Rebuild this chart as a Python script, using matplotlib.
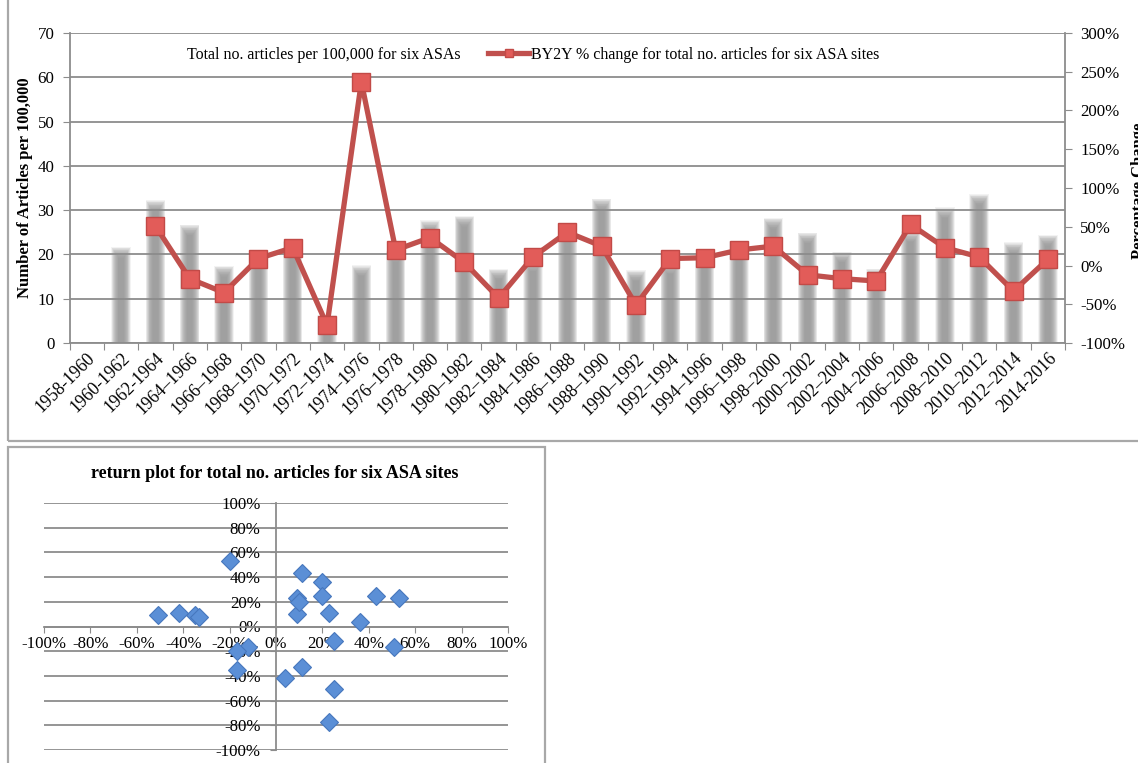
import numpy as np
import matplotlib
matplotlib.use("Agg")
import matplotlib.pyplot as plt
from matplotlib.lines import Line2D
from matplotlib.patches import Patch, Rectangle
from matplotlib.ticker import FuncFormatter

# ---- data -------------------------------------------------------------
periods = ["1958-1960", "1960-1962", "1962-1964", "1964–1966", "1966–1968",
           "1968–1970", "1970–1972", "1972–1974", "1974–1976", "1976–1978",
           "1978–1980", "1980–1982", "1982–1984", "1984–1986", "1986–1988",
           "1988–1990", "1990–1992", "1992–1994", "1994–1996", "1996–1998",
           "1998–2000", "2000–2002", "2002–2004", "2004–2006", "2006–2008",
           "2008–2010", "2010–2012", "2012–2014", "2014-2016"]

# total no. articles per 100,000 for six ASAs
articles = [np.nan, 20.5, 31.0, 25.5, 16.2, 17.8, 21.8, 5.0, 16.3, 19.5,
            26.5, 27.5, 15.5, 17.4, 24.9, 31.4, 15.2, 16.8, 18.6, 21.9,
            27.0, 23.7, 19.4, 15.6, 24.0, 29.4, 32.4, 21.5, 23.2]

# BY2Y % change for total no. articles
pct_change = [np.nan, np.nan, 51, -17, -35, 9, 23, -77, 237, 20,
              36, 4, -42, 11, 43, 25, -51, 9, 10, 20,
              25, -12, -17, -20, 53, 23, 11, -33, 8]

left_ticks = [0, 10, 20, 30, 40, 50, 60, 70]
right_ticks = [-100, -50, 0, 50, 100, 150, 200, 250, 300]
return_ticks = [-100, -80, -60, -40, -20, 0, 20, 40, 60, 80, 100]

# ---- style ------------------------------------------------------------
plt.rcParams["font.family"] = ["Liberation Serif", "DejaVu Serif"]
FS = 11.5        # legend text
TFS = 12.2       # tick labels
XFS = 12.7       # rotated period labels
LFS = 12         # axis labels
GRID = "#8c8c8c"
RED = "#c0504d"
RED_FACE = "#e25c59"
BLUE_FACE = "#5b8fd6"
BLUE_EDGE = "#4777bd"
W, H = 1138, 763

fig = plt.figure(figsize=(W / 100, H / 100), dpi=100)

# panel frames
fig.patches.append(Rectangle((8 / W, 1 - 441 / H), 1.2, 1.0,
                             transform=fig.transFigure, fill=False,
                             ec="#a8a8a8", lw=1.6))
fig.patches.append(Rectangle((8 / W, -0.2), (545 - 8) / W, 0.2 + (1 - 447 / H),
                             transform=fig.transFigure, fill=False,
                             ec="#a8a8a8", lw=1.6))

# ---- top chart --------------------------------------------------------
ax = fig.add_axes([69.6 / W, 1 - 343 / H, (1065 - 69.6) / W, (343 - 33) / H])
n = len(periods)
x = np.arange(n)
ax.set_xlim(-0.5, n - 0.5)
ax.set_ylim(0, 70)
ax.set_yticks(left_ticks)
ax.yaxis.grid(True, color=GRID, lw=1.3)
ax.set_axisbelow(False)

# soft-edged grey columns built from stacked translucent bars
vals = np.array(articles, dtype=float)
ok = ~np.isnan(vals)
layers = 16
total_alpha = 0.84
a = 1 - (1 - total_alpha) ** (1 / layers)
for k in range(layers):
    d = ((k + 0.5) / layers - 0.5) * 2
    ax.bar(x[ok], vals[ok] + d * 1.3, width=0.36 + d * 0.22,
           color="#929292", alpha=a, lw=0, zorder=1)

for s in ("top", "right"):
    ax.spines[s].set_visible(False)
for s in ("left", "bottom"):
    ax.spines[s].set_color(GRID)
    ax.spines[s].set_linewidth(1.3)

ax.tick_params(axis="y", direction="out", length=5, color=GRID,
               labelsize=TFS, pad=6)
ax.set_xticks(np.arange(n + 1) - 0.5)
ax.tick_params(axis="x", which="major", direction="out", length=5,
               color=GRID, labelbottom=False)
ax.set_xticks(x, periods, minor=True, rotation=45, ha="right",
              va="top", rotation_mode="anchor")
ax.tick_params(axis="x", which="minor", length=0, labelsize=XFS, pad=5)

ax.set_ylabel("Number of Articles per 100,000", fontsize=LFS,
              fontweight="bold")
ax.yaxis.set_label_coords(-0.037, 0.5)

ax2 = ax.twinx()
ax2.set_ylim(-100, 300)
ax2.set_yticks(right_ticks)
ax2.yaxis.set_major_formatter(FuncFormatter(lambda v, p: f"{v:.0f}%"))
for s in ("top", "left", "bottom"):
    ax2.spines[s].set_visible(False)
ax2.spines["right"].set_color(GRID)
ax2.spines["right"].set_linewidth(1.3)
ax2.tick_params(axis="y", direction="out", length=5, color=GRID,
                labelsize=TFS, pad=6)
ax2.plot(x, pct_change, color=RED, lw=3.8, marker="s", ms=13.5,
         mfc=RED_FACE, mec="#c24a47", mew=1.0, zorder=3)
ax2.set_ylabel("Percentage Change", fontsize=LFS, fontweight="bold")
ax2.yaxis.set_label_coords(1.066, 0.49)

handles = [Patch(facecolor="none", edgecolor="none"),
           Line2D([], [], color=RED, lw=3.8, marker="s", ms=6,
                  mfc=RED_FACE, mec="#c24a47")]
labels = ["Total no. articles per 100,000 for six ASAs",
          "BY2Y % change for total no. articles for six ASA sites"]
ax2.legend(handles, labels, loc="center", bbox_to_anchor=(0.444, 0.929),
           ncol=2, frameon=False, fontsize=FS, handlelength=2.6,
           handletextpad=0.1, columnspacing=1.7)

# ---- return plot ------------------------------------------------------
bx = fig.add_axes([44 / W, 1 - 750 / H, (508 - 44) / W, (750 - 503) / H])
series = np.array(pct_change, dtype=float)
xs = series[:-1]
ys = series[1:]
keep = ~np.isnan(xs) & ~np.isnan(ys)
bx.plot(xs[keep], ys[keep], ls="none", marker="D", ms=9.5, mfc=BLUE_FACE,
        mec=BLUE_EDGE, mew=0.8, zorder=3)
bx.set_xlim(-100, 100)
bx.set_ylim(-100, 100)
bx.set_xticks(return_ticks)
bx.set_yticks(return_ticks)
pct_fmt = FuncFormatter(lambda v, p: f"{v:.0f}%")
bx.xaxis.set_major_formatter(pct_fmt)
bx.yaxis.set_major_formatter(pct_fmt)
bx.yaxis.grid(True, color=GRID, lw=1.3)
bx.set_axisbelow(True)
bx.spines["left"].set_position(("data", 0))
bx.spines["bottom"].set_position(("data", 0))
for s in ("top", "right"):
    bx.spines[s].set_visible(False)
for s in ("left", "bottom"):
    bx.spines[s].set_color(GRID)
    bx.spines[s].set_linewidth(1.3)
bx.tick_params(axis="both", direction="out", length=4, color=GRID,
               labelsize=TFS)
bx.tick_params(axis="y", pad=7)
bx.tick_params(axis="x", pad=3)
fig.text(275 / W, 1 - 473 / H,
         "return plot for total no. articles for six ASA sites",
         ha="center", va="center", fontsize=13, fontweight="bold")

fig.savefig("out.png", dpi=100)
